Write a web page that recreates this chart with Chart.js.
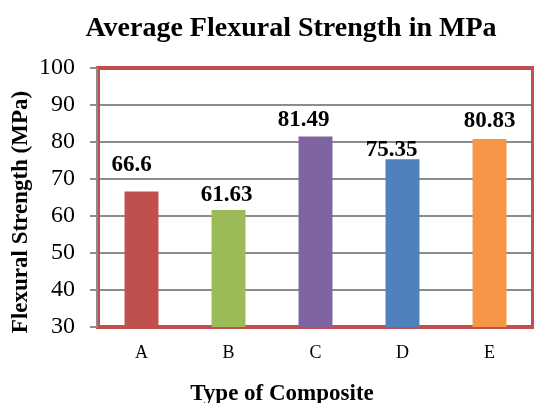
<!DOCTYPE html>
<html>
<head>
<meta charset="utf-8">
<title>Average Flexural Strength in MPa</title>
<script src="https://cdn.jsdelivr.net/npm/chart.js@4/dist/chart.umd.min.js"></script>
<style>
  html, body { margin: 0; padding: 0; background: #ffffff; }
  #wrap { width: 534px; height: 403px; position: relative; }
</style>
</head>
<body>
<div id="wrap"><canvas id="chart" width="534" height="403"></canvas></div>
<script>
// Composite types and their average flexural strength (MPa)
const categories = ['A', 'B', 'C', 'D', 'E'];
const strengthValues = [66.6, 61.63, 81.49, 75.35, 80.83];
const barColors = ['#C0504D', '#9BBB59', '#8064A2', '#4F81BD', '#F79646'];
const yTickValues = [30, 40, 50, 60, 70, 80, 90, 100];

const chartTitle = 'Average Flexural Strength in MPa';
const xAxisTitle = 'Type of Composite';
const yAxisTitle = 'Flexural Strength (MPa)';

const SERIF = '"Liberation Serif", "Times New Roman", Times, serif';
const RED = '#C0504D';
const GRID = '#8C8C8C';

// Red frame round the plot area, with the grey value axis on its left edge
const frameAndAxis = {
  id: 'frameAndAxis',
  beforeDatasetsDraw(chart) {
    const { ctx, chartArea: a } = chart;
    ctx.save();
    ctx.strokeStyle = RED;
    ctx.lineWidth = 4;
    ctx.strokeRect(a.left, a.top, a.right - a.left, a.bottom - a.top);
    ctx.strokeStyle = GRID;
    ctx.lineWidth = 2;
    ctx.beginPath();
    ctx.moveTo(a.left - 1, a.top - 1);
    ctx.lineTo(a.left - 1, a.bottom + 1);
    ctx.stroke();
    ctx.restore();
  }
};

// Value labels above each bar, nudged the way the labels sit in the original layout
const barValueLabels = {
  id: 'barValueLabels',
  afterDatasetsDraw(chart, args, opts) {
    const { ctx } = chart;
    const meta = chart.getDatasetMeta(0);
    const ds = chart.data.datasets[0];
    ctx.save();
    ctx.font = 'bold 23px ' + SERIF;
    ctx.fillStyle = '#000000';
    ctx.textAlign = 'center';
    ctx.textBaseline = 'middle';
    meta.data.forEach((bar, i) => {
      const off = opts.offsets[i] || [0, -18];
      ctx.fillText(String(ds.data[i]), bar.x + off[0], bar.y + off[1]);
    });
    ctx.restore();
  }
};

// Chart title and both axis titles
const titles = {
  id: 'titles',
  afterDraw(chart) {
    const { ctx } = chart;
    ctx.save();
    ctx.fillStyle = '#000000';
    ctx.textAlign = 'center';
    ctx.textBaseline = 'alphabetic';
    ctx.font = 'bold 28px ' + SERIF;
    ctx.fillText(chartTitle, 291, 36);
    ctx.font = 'bold 23px ' + SERIF;
    ctx.fillText(xAxisTitle, 282, 400);
    ctx.translate(27, 212);
    ctx.rotate(-Math.PI / 2);
    ctx.fillText(yAxisTitle, 0, 0);
    ctx.restore();
  }
};

function drawChart() {
  new Chart(document.getElementById('chart'), {
    type: 'bar',
    data: {
      labels: categories,
      datasets: [{
        data: strengthValues,
        backgroundColor: barColors,
        borderWidth: 0,
        barPercentage: 0.39,
        categoryPercentage: 1.0
      }]
    },
    options: {
      responsive: false,
      animation: false,
      devicePixelRatio: 1,
      layout: { padding: { top: 68, right: 1, left: 0, bottom: 0 } },
      plugins: {
        legend: { display: false },
        title: { display: false },
        tooltip: { enabled: false },
        barValueLabels: {
          offsets: [[-10, -27], [-2, -15], [-12, -16], [-11, -9], [0, -18]]
        }
      },
      scales: {
        x: {
          grid: { display: false, drawTicks: false },
          border: { display: false },
          ticks: {
            color: '#000000',
            font: { family: SERIF, size: 18 },
            padding: 15
          },
          afterFit(scale) { scale.height = 76; }
        },
        y: {
          min: 30,
          max: 100,
          afterBuildTicks(scale) {
            scale.ticks = yTickValues.map(v => ({ value: v }));
          },
          grid: {
            color: GRID,
            lineWidth: 2,
            tickLength: 8,
            drawTicks: true
          },
          border: { display: false },
          ticks: {
            color: '#000000',
            font: { family: SERIF, size: 24 },
            padding: 15
          },
          afterFit(scale) { scale.width = 98; }
        }
      }
    },
    plugins: [frameAndAxis, barValueLabels, titles]
  });
}

// Make sure the serif faces are ready before the canvas text is drawn
Promise.all([
  document.fonts.load('24px "Liberation Serif"'),
  document.fonts.load('bold 24px "Liberation Serif"')
]).then(drawChart, drawChart);
</script>
</body>
</html>
